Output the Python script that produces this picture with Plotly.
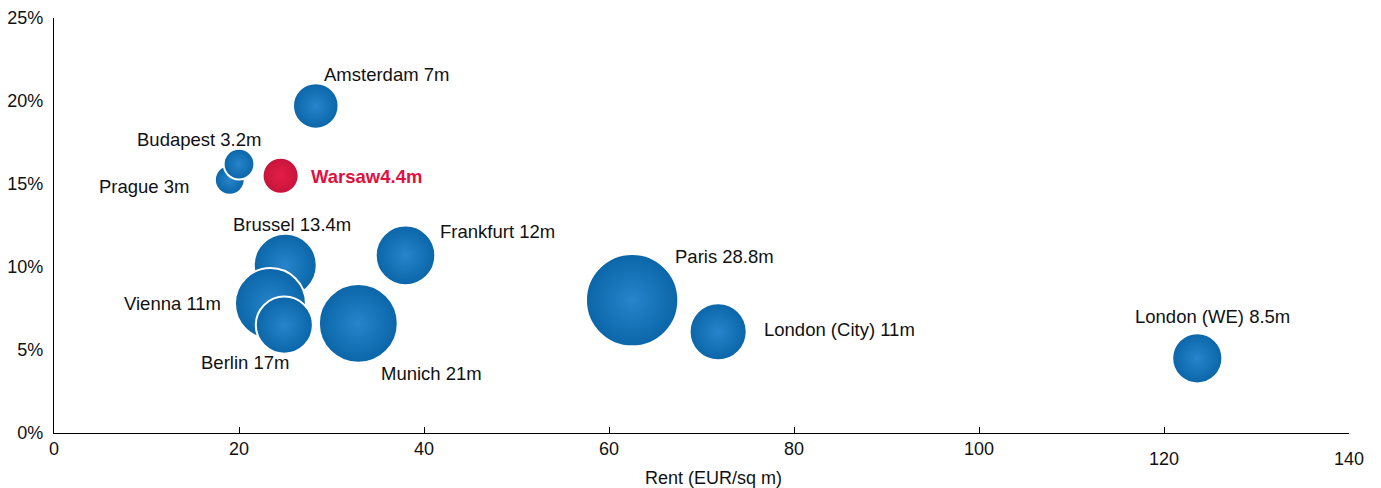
import numpy as np
import plotly.graph_objects as go

# Office markets: prime rent vs. yield, bubble area = stock (m sq m)
cities = ["Amsterdam", "Prague", "Budapest", "Warsaw", "Brussel", "Berlin",
          "Vienna", "Munich", "Frankfurt", "Paris", "London (City)", "London (WE)"]
rent = [28.3, 19.0, 20.0, 24.5, 25.0, 23.4, 24.9, 32.9, 38.0, 62.5, 71.8, 123.6]
yield_pct = [19.7, 15.25, 16.2, 15.5, 10.1, 7.8, 6.5, 6.6, 10.7, 8.0, 6.1, 4.5]
stock_m = [7, 3, 3.2, 4.4, 13.4, 17, 11, 21, 12, 28.8, 11, 8.5]

x_ticks = [0, 20, 40, 60, 80, 100, 120, 140]
y_ticks = [0, 5, 10, 15, 20, 25]

HIGHLIGHT = "Warsaw"

# label placement relative to each bubble centre (pixels)
label_shift = {
    "Amsterdam": (71, 31), "Prague": (-85, -7), "Budapest": (-40, 25),
    "Warsaw": (86, -1), "Brussel": (7, 41), "Berlin": (-25, -59),
    "Vienna": (-112, 22), "Munich": (73, -50), "Frankfurt": (92, 24),
    "Paris": (92, 44), "London (City)": (121, 2), "London (WE)": (15, 42),
}

FONT = "Liberation Sans, Arial, Helvetica, sans-serif"
INK = "#111111"
BLUE_EDGE, BLUE_CORE = "#0a66a8", "#2884cb"
RED_EDGE, RED_CORE = "#c6133b", "#e41e46"

edge = [RED_EDGE if c == HIGHLIGHT else BLUE_EDGE for c in cities]
core = [RED_CORE if c == HIGHLIGHT else BLUE_CORE for c in cities]
diam = 2 * np.sqrt(74 * np.array(stock_m))

fig = go.Figure()
fig.add_trace(go.Scatter(
    x=rent, y=yield_pct, mode="markers",
    marker=dict(size=diam, sizemode="diameter", color=edge, opacity=1,
                gradient=dict(type="radial", color=core),
                line=dict(color="white", width=2)),
    hoverinfo="skip", showlegend=False,
))

for c, xv, yv, s in zip(cities, rent, yield_pct, stock_m):
    dx, dy = label_shift[c]
    hl = c == HIGHLIGHT
    txt = f"<b>{c}{s:g}m</b>" if hl else f"{c} {s:g}m"
    fig.add_annotation(x=xv, y=yv, xref="x", yref="y", text=txt, showarrow=False,
                       xshift=dx, yshift=dy,
                       font=dict(family=FONT, size=18.5, color="#e0103f" if hl else INK))

# x tick labels (the last two sit a little lower)
for t in x_ticks:
    fig.add_annotation(x=t, y=0, xref="x", yref="paper", text=str(t), showarrow=False,
                       yanchor="middle", yshift=-16 if t < 120 else -26,
                       font=dict(family=FONT, size=18, color=INK))

fig.add_annotation(x=0.509, y=0, xref="paper", yref="paper", text="Rent (EUR/sq m)",
                   showarrow=False, yanchor="middle", yshift=-45,
                   font=dict(family=FONT, size=18, color=INK))

fig.update_xaxes(range=[0, 140], tickvals=x_ticks, showticklabels=False,
                 ticks="inside", ticklen=6, tickcolor="black", tickwidth=1,
                 showline=True, linecolor="black", linewidth=1.3,
                 showgrid=False, zeroline=False, automargin=False)
fig.update_yaxes(range=[0, 25], tickvals=y_ticks, ticktext=[f"{v}%" for v in y_ticks],
                 ticks="", ticklabelstandoff=6, automargin=False,
                 showline=True, linecolor="black", linewidth=1.3,
                 showgrid=False, zeroline=False,
                 tickfont=dict(family=FONT, size=18, color=INK))

fig.update_layout(width=1381, height=488, plot_bgcolor="white", paper_bgcolor="white",
                  margin=dict(l=54, r=32, t=18, b=55))

fig.write_html("out.html")
